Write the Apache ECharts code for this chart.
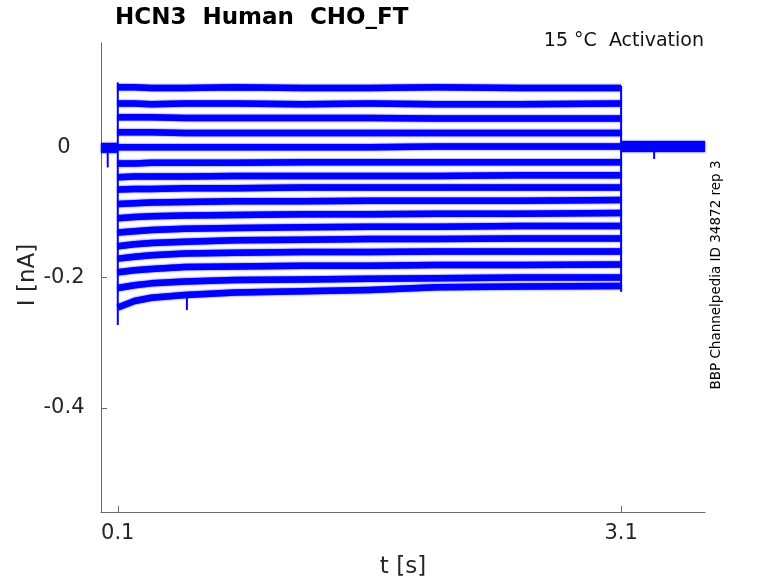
<!DOCTYPE html>
<html>
<head>
<meta charset="utf-8">
<script src="https://cdn.jsdelivr.net/npm/echarts@6/dist/echarts.min.js"></script>
<style>
  html, body { margin: 0; padding: 0; background: #ffffff; }
  #chart { width: 778px; height: 583px; }
</style>
</head>
<body>
<div id="chart"></div>
<script>
// ---- data (currents in nA, time in s) ----
const stepTimes = [0.1, 0.2, 0.3, 0.5, 0.8, 1.2, 1.6, 2.0, 2.5, 3.1];
const sweep01 = [0.092, 0.092, 0.091, 0.091, 0.092, 0.091, 0.091, 0.092, 0.091, 0.091];
const sweep02 = [0.067, 0.067, 0.066, 0.067, 0.067, 0.066, 0.067, 0.066, 0.066, 0.067];
const sweep03 = [0.046, 0.046, 0.046, 0.045, 0.045, 0.045, 0.045, 0.044, 0.044, 0.044];
const sweep04 = [0.023, 0.023, 0.023, 0.022, 0.022, 0.022, 0.022, 0.022, 0.022, 0.022];
const sweep05 = [0.000, 0.000, 0.000, 0.000, 0.000, 0.000, 0.000, 0.001, 0.001, 0.001];
const sweep06 = [-0.025, -0.025, -0.024, -0.024, -0.024, -0.023, -0.023, -0.023, -0.023, -0.023];
const sweep07 = [-0.046, -0.045, -0.045, -0.045, -0.044, -0.044, -0.044, -0.044, -0.043, -0.043];
const sweep08 = [-0.065, -0.064, -0.064, -0.063, -0.063, -0.062, -0.062, -0.062, -0.062, -0.062];
const sweep09 = [-0.087, -0.086, -0.085, -0.084, -0.083, -0.083, -0.082, -0.082, -0.082, -0.081];
const sweep10 = [-0.109, -0.107, -0.106, -0.105, -0.104, -0.103, -0.103, -0.102, -0.102, -0.101];
const sweep11 = [-0.131, -0.129, -0.127, -0.125, -0.124, -0.123, -0.122, -0.122, -0.121, -0.121];
const sweep12 = [-0.152, -0.149, -0.147, -0.145, -0.143, -0.142, -0.141, -0.141, -0.140, -0.140];
const sweep13 = [-0.171, -0.168, -0.166, -0.163, -0.162, -0.161, -0.161, -0.160, -0.160, -0.160];
const sweep14 = [-0.192, -0.189, -0.187, -0.184, -0.183, -0.182, -0.182, -0.181, -0.181, -0.180];
const sweep15 = [-0.216, -0.212, -0.209, -0.206, -0.204, -0.203, -0.202, -0.201, -0.200, -0.200];
const sweep16 = [-0.246, -0.236, -0.231, -0.227, -0.223, -0.221, -0.219, -0.215, -0.214, -0.213];

const holdTimes = [0, 0.1];
const holdValues = [-0.001, -0.001];
const tailTimes = [3.1, 3.6];
const tailValues = [0.001, 0.001];

// vertical jumps at step on / off: [time, top, bottom]
const edgeOn = [0.1, 0.0995, -0.273];
const edgeOff = [3.1, 0.094, -0.222];

// short artifacts: time, from, to
const spikeTimes = [0.040, 0.512, 3.297];
const spikeFrom = [0.000, -0.227, 0.000];
const spikeTo = [-0.031, -0.250, -0.018];

const xTicks = [0.1, 3.1];
const yTicks = [-0.4, -0.2, 0];

const titleText = 'HCN3  Human  CHO_FT';
const subText = '15 °C  Activation';
const sideText = 'BBP Channelpedia ID 34872 rep 3';

// ---- build ----
const sweeps = [sweep01, sweep02, sweep03, sweep04, sweep05, sweep06, sweep07, sweep08,
                sweep09, sweep10, sweep11, sweep12, sweep13, sweep14, sweep15, sweep16];
const BLUE = '#0000ff';
const FONT = 'DejaVu Sans';
const TXT = '#262626';
const AX = '#6a6a6a';

const series = [];
function lineSeries(data, width, blur) {
  return {
    type: 'line', data: data, showSymbol: false, symbol: 'none', silent: true,
    animation: false,
    lineStyle: { color: BLUE, width: width, cap: 'butt', join: 'round',
      shadowBlur: blur, shadowColor: 'rgba(0,0,255,0.9)' }
  };
}
series.push(lineSeries(holdTimes.map((t, i) => [t, holdValues[i]]), 10, 2));
series.push(lineSeries(tailTimes.map((t, i) => [t, tailValues[i]]), 11, 2));
sweeps.forEach(s => {
  series.push(lineSeries(stepTimes.map((t, i) => [t, s[i]]), 6.5, 2));
});
series.push(lineSeries([[edgeOn[0], edgeOn[1]], [edgeOn[0], edgeOn[2]]], 2, 0));
series.push(lineSeries([[edgeOff[0], edgeOff[1]], [edgeOff[0], edgeOff[2]]], 2, 0));
spikeTimes.forEach((t, i) => {
  series.push(lineSeries([[t, spikeFrom[i]], [t, spikeTo[i]]], 2, 0));
});

const chart = echarts.init(document.getElementById('chart'), null, { renderer: 'canvas' });
chart.setOption({
  animation: false,
  backgroundColor: '#ffffff',
  title: {
    text: titleText, left: 110, top: 2,
    textStyle: { fontFamily: FONT, fontSize: 23, fontWeight: 'bold', color: '#000000' }
  },
  grid: { left: 101, top: 43, right: 73, bottom: 71, containLabel: false },
  xAxis: {
    type: 'value', min: 0, max: 3.6,
    splitLine: { show: false },
    axisLine: { show: true, onZero: false, lineStyle: { color: AX, width: 1 } },
    axisTick: { show: true, inside: true, length: 6, customValues: xTicks, lineStyle: { color: AX } },
    axisLabel: { show: true, customValues: xTicks, margin: 11, color: TXT,
      fontFamily: FONT, fontSize: 21, formatter: v => String(v) }
  },
  yAxis: {
    type: 'value', min: -0.56, max: 0.16,
    splitLine: { show: false },
    axisLine: { show: true, onZero: false, lineStyle: { color: AX, width: 1 } },
    axisTick: { show: true, inside: true, length: 6, customValues: yTicks, lineStyle: { color: AX } },
    axisLabel: { show: true, customValues: yTicks, margin: 37, align: 'center', color: TXT,
      fontFamily: FONT, fontSize: 21, formatter: v => (v === 0 ? '0' : String(v)) }
  },
  graphic: [
    { type: 'text', x: 704, y: 41, style: { text: subText, align: 'right', verticalAlign: 'middle',
      fontFamily: FONT, fontSize: 19, fill: '#111111' } },
    { type: 'text', x: 403, y: 567, style: { text: 't [s]', align: 'center', verticalAlign: 'middle',
      fontFamily: FONT, fontSize: 23, fill: TXT } },
    { type: 'text', x: 28, y: 275, rotation: Math.PI / 2, style: { text: 'I [nA]', align: 'center',
      verticalAlign: 'middle', fontFamily: FONT, fontSize: 23, fill: TXT } },
    { type: 'text', x: 716, y: 275, rotation: Math.PI / 2, style: { text: sideText, align: 'center',
      verticalAlign: 'middle', fontFamily: FONT, fontSize: 13.5, fill: '#000000' } }
  ],
  series: series
});
</script>
</body>
</html>
